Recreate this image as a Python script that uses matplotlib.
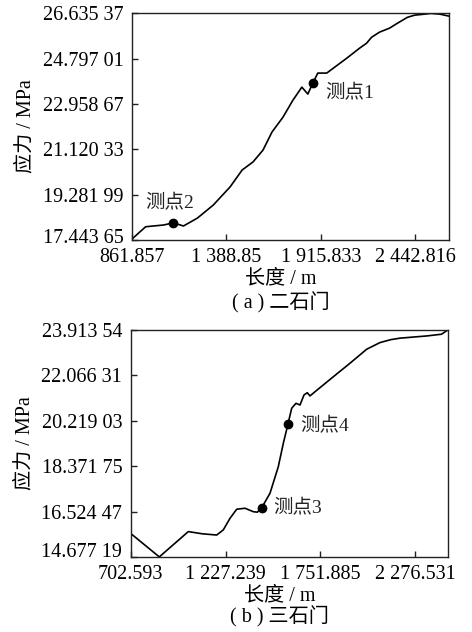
import matplotlib
matplotlib.use("Agg")
import matplotlib.pyplot as plt
from matplotlib.ticker import FixedLocator, FixedFormatter
from matplotlib.transforms import ScaledTranslation

plt.rcParams['font.family'] = ['Liberation Serif', 'Noto Sans CJK SC']
plt.rcParams['font.size'] = 14.5

# (a) 二石门 stress along the length
len_a = [861.9, 939.5, 1039.4, 1094.8, 1150.3, 1228.0, 1316.7, 1411.0, 1477.6,
         1538.6, 1594.1, 1644.0, 1705.0, 1760.5, 1810.4, 1843.7, 1871.4, 1899.2,
         1949.1, 2060.0, 2132.2, 2171.0, 2198.8, 2243.2, 2298.6, 2343.0, 2398.5,
         2440.0, 2481.7, 2530.0, 2580.0, 2630.0]
stress_a = [17.47, 17.98, 18.05, 18.14, 18.01, 18.33, 18.86, 19.60, 20.28,
            20.61, 21.09, 21.82, 22.42, 23.11, 23.64, 23.36, 23.80, 24.21,
            24.21, 24.81, 25.22, 25.42, 25.66, 25.87, 26.03, 26.23, 26.47,
            26.56, 26.59, 26.63, 26.60, 26.52]
pts_a = {'测点2': (1094.8, 18.14), '测点1': (1871.4, 23.80)}
xt_a = [861.857, 1388.85, 1915.833, 2442.816]
xl_a = ['861.857', '1 388.85', '1 915.833', '2 442.816']
yt_a = [17.44365, 19.28199, 21.12033, 22.95867, 24.79701, 26.63537]
yl_a = ['17.443 65', '19.281 99', '21.120 33', '22.958 67', '24.797 01', '26.635 37']

# (b) 三石门
len_b = [702.6, 861.7, 1021.8, 1100.0, 1178.6, 1215.1, 1252.1, 1289.1, 1335.0,
         1380.8, 1402.9, 1427.2, 1473.0, 1518.8, 1546.5, 1572.4, 1592.8, 1616.6,
         1638.7, 1660.8, 1679.0, 1693.9, 1721.5, 1822.6, 1914.8, 2007.0, 2080.5,
         2140.0, 2190.9, 2338.4, 2420.0, 2454.4]
stress_b = [15.64, 14.68, 15.71, 15.62, 15.57, 15.78, 16.25, 16.62, 16.66,
            16.52, 16.50, 16.68, 17.27, 18.35, 19.30, 20.09, 20.73, 20.93,
            20.86, 21.27, 21.36, 21.23, 21.40, 22.01, 22.56, 23.13, 23.40,
            23.52, 23.58, 23.67, 23.74, 23.91]
pts_b = {'测点3': (1427.2, 16.68), '测点4': (1572.4, 20.09)}
xt_b = [702.593, 1227.239, 1751.885, 2276.531]
xl_b = ['702.593', '1 227.239', '1 751.885', '2 276.531']
yt_b = [14.67719, 16.52447, 18.37175, 20.21903, 22.06631, 23.91354]
yl_b = ['14.677 19', '16.524 47', '18.371 75', '20.219 03', '22.066 31', '23.913 54']

fig = plt.figure(figsize=(4.72, 6.32), dpi=100)
ax1 = fig.add_axes([0.279, 0.6203, 0.672, 0.3587])
ax2 = fig.add_axes([0.2765, 0.1187, 0.672, 0.3592])


def draw(ax, x, y, pts, xt, xl, yt, yl, xmax, caption, offsets, cap_y, low_shift):
    ax.plot(x, y, color='black', lw=1.2)
    for (name, (px, py)), (dx, dy) in zip(pts.items(), offsets):
        ax.plot(px, py, 'o', color='black', ms=6)
        ax.annotate(name, (px, py), xytext=(dx, dy), textcoords='offset points',
                    ha='left', va='center', fontsize=14, color='#222')
    ax.set_xlim(xt[0], xmax)
    ax.set_ylim(yt[0], yt[-1])
    ax.xaxis.set_major_locator(FixedLocator(xt))
    ax.xaxis.set_major_formatter(FixedFormatter(xl))
    ax.yaxis.set_major_locator(FixedLocator(yt))
    ax.yaxis.set_major_formatter(FixedFormatter(yl))
    ax.tick_params(direction='in', length=4, width=1, color='#222')
    ax.tick_params(axis='y', pad=6)
    ax.tick_params(axis='x', pad=6)
    for s in ax.spines.values():
        s.set_linewidth(1.0)
        s.set_color('#222')
    ax.set_xlabel('长度 / m')
    ax.xaxis.set_label_coords(0.47, -0.128)
    ax.set_ylabel('应力 / MPa', labelpad=5)
    ax.text(0.47, cap_y, caption, transform=ax.transAxes, ha='center', va='center')
    # lift the lowest stress label clear of the length labels
    low = ax.yaxis.get_majorticklabels()[0]
    low.set_transform(low.get_transform() +
                      ScaledTranslation(0, low_shift / 100, fig.dpi_scale_trans))


draw(ax1, len_a, stress_a, pts_a, xt_a, xl_a, yt_a, yl_a, 2630,
     '( a ) 二石门', [(-20, 14), (9, -7)], -0.275, 4)
draw(ax2, len_b, stress_b, pts_b, xt_b, xl_b, yt_b, yl_b, 2454.4,
     '( b ) 三石门', [(8, 0), (9, -2)], -0.262, 7)

fig.savefig('out.png', dpi=100)
